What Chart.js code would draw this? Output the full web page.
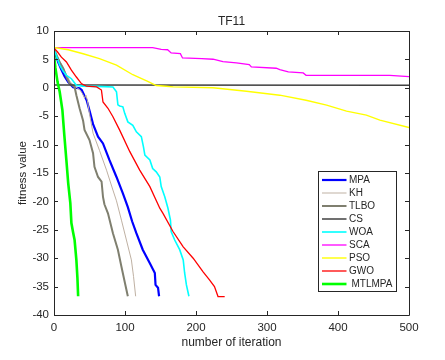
<!DOCTYPE html>
<html>
<head>
<meta charset="utf-8">
<script src="https://cdn.jsdelivr.net/npm/chart.js@4/dist/chart.umd.min.js"></script>
<style>
  html, body { margin: 0; padding: 0; background: #fff; }
  canvas { display: block; }
</style>
</head>
<body>
<canvas id="chart" width="445" height="360"></canvas>
<script>
// legend order
const names = ['MPA', 'KH', 'TLBO', 'CS', 'WOA', 'SCA', 'PSO', 'GWO', 'MTLMPA'];

// iteration / fitness pairs
const mpaIter = [0, 3, 6, 10, 15, 20, 27, 36, 39, 46, 50, 55, 62, 69, 78, 88, 97, 104, 110, 116, 125, 135, 142, 143, 146.5, 148];
const mpaFit = [6.6, 5.6, 4.5, 3.3, 2.0, 1.0, 0.1, -0.1, -0.4, -2.2, -4.0, -6.4, -8.6, -9.8, -12.7, -15.7, -18.6, -21.0, -23.5, -25.6, -28.5, -30.9, -32.6, -34.7, -35.2, -36.7];

const khIter = [0, 4, 8, 13, 18, 23, 30, 36, 40, 43, 45, 47, 50, 55, 64, 74, 83, 88, 95, 102, 109, 112, 115];
const khFit = [6.8, 5.8, 4.7, 3.6, 2.2, 1.0, 0.2, -0.3, -1.0, -1.8, -1.3, -2.2, -4.6, -8.0, -11.0, -14.5, -18.0, -19.9, -23.3, -26.8, -30.3, -33.2, -36.7];

const tlboIter = [0, 4, 8, 13, 18, 22, 29, 31.5, 36, 41, 43, 50, 55, 57, 62, 67, 69, 71, 76, 83, 90, 95, 100, 104];
const tlboFit = [6.8, 5.6, 4.5, 3.4, 1.8, 0.75, 0.15, -1.3, -3.6, -5.8, -7.4, -9.2, -11.5, -13.9, -15.7, -16.5, -19.2, -20.5, -22.1, -25.6, -28.5, -31.5, -34.4, -36.7];

const csIter = [0, 500];
const csFit = [0.5, 0.45];

const woaIter = [0, 4, 8, 13, 17.5, 24.5, 31.5, 40, 60, 83, 88, 90, 92.5, 97, 99.6, 104, 111, 116, 123, 126, 128, 135, 139, 144, 149, 151, 156, 160.5, 164, 165, 170, 177, 182, 184, 186.5, 190];
const woaFit = [6.8, 5.4, 4.0, 2.9, 2.2, 1.6, 0.45, 0.3, 0.25, 0.15, -0.7, -3.0, -3.2, -3.35, -4.5, -6.0, -6.6, -7.75, -8.6, -10.4, -11.85, -12.7, -14.2, -14.8, -15.7, -17.4, -19.2, -21.2, -23.3, -25.3, -26.8, -28.5, -30.3, -32.6, -34.7, -36.7];

const scaIter = [0, 139, 151, 160, 165, 178, 181, 208, 224, 238, 257, 275, 278, 313, 318, 330, 351, 355, 473, 500];
const scaFit = [7.08, 7.08, 6.78, 6.7, 6.14, 6.0, 5.26, 5.15, 5.03, 4.62, 4.38, 4.09, 3.68, 3.44, 3.2, 2.8, 2.62, 2.2, 2.2, 1.98];

const psoIter = [0, 20, 41, 64, 88, 111, 132, 144, 158, 168, 224, 271, 318, 355, 384, 412, 440, 459, 500];
const psoFit = [7.1, 6.7, 6.0, 5.15, 4.0, 2.3, 1.15, 0.4, 0.28, 0.16, 0.0, -0.6, -1.3, -2.2, -3.05, -4.1, -4.8, -5.7, -7.0];

const gwoIter = [0, 5, 10.4, 17.5, 24.5, 31.5, 38.6, 45.6, 60, 66.8, 69, 76, 83, 92.5, 106.6, 120.7, 135, 149, 153.5, 167.6, 182, 196, 210, 219, 226, 231, 240.4];
const gwoFit = [7.0, 6.3, 5.4, 4.55, 3.1, 1.9, 0.75, 0.28, 0.15, -0.4, -2.5, -3.6, -5.1, -7.45, -11.2, -14.5, -17.4, -21.2, -22.1, -25.3, -28.0, -30.0, -32.4, -33.8, -35.0, -36.75, -36.75];

const mtlmpaIter = [0, 2, 5, 8, 11.8, 14.5, 17.4, 20, 23, 24.5, 27, 29, 31.5, 33, 34];
const mtlmpaFit = [5.8, 3.5, 1.0, -0.7, -3.9, -8.3, -12.7, -16.8, -20.3, -23.8, -25.5, -26.8, -30.3, -33.5, -36.7];

const xTicks = [0, 100, 200, 300, 400, 500];
const yTicks = [-40, -35, -30, -25, -20, -15, -10, -5, 0, 5, 10];

const series = [
    [mpaIter, mpaFit, '#0000ff', 2.2],
    [khIter, khFit, '#bfb1a3', 1],
    [tlboIter, tlboFit, '#7f7f6f', 2],
    [csIter, csFit, '#404040', 1.5],
    [woaIter, woaFit, '#00ffff', 1.6],
    [scaIter, scaFit, '#ff00ff', 1.3],
    [psoIter, psoFit, '#ffff00', 1.4],
    [gwoIter, gwoFit, '#ff0000', 1.3],
    [mtlmpaIter, mtlmpaFit, '#00ff00', 2.6]
];

const axisColor = '#262626';
const fontFamily = '"Liberation Sans", Arial, sans-serif';

const datasets = series.map((s, i) => ({
    label: names[i],
    data: s[0].map((x, j) => ({ x: x, y: s[1][j] })),
    borderColor: s[2],
    backgroundColor: s[2],
    borderWidth: s[3],
    pointRadius: 0,
    tension: 0,
    fill: false,
    order: series.length - i
}));

// box, inward ticks, titles and legend in MATLAB style
const matlabFrame = {
    id: 'matlabFrame',
    beforeDraw(chart) {
        const ctx = chart.ctx;
        ctx.save();
        ctx.fillStyle = '#fff';
        ctx.fillRect(0, 0, chart.width, chart.height);
        ctx.restore();
    },
    afterDatasetsDraw(chart) {
        const ctx = chart.ctx;
        const a = chart.chartArea;
        const xs = chart.scales.x;
        const ys = chart.scales.y;
        const tl = 4;
        ctx.save();
        ctx.strokeStyle = axisColor;
        ctx.lineWidth = 1;
        ctx.beginPath();
        ctx.rect(Math.round(a.left) + 0.5, Math.round(a.top) + 0.5, Math.round(a.right - a.left), Math.round(a.bottom - a.top));
        xTicks.forEach(v => {
            const px = Math.round(xs.getPixelForValue(v)) + 0.5;
            ctx.moveTo(px, a.bottom); ctx.lineTo(px, a.bottom - tl);
            ctx.moveTo(px, a.top); ctx.lineTo(px, a.top + tl);
        });
        yTicks.forEach(v => {
            const py = Math.round(ys.getPixelForValue(v)) + 0.5;
            ctx.moveTo(a.left, py); ctx.lineTo(a.left + tl, py);
            ctx.moveTo(a.right, py); ctx.lineTo(a.right - tl, py);
        });
        ctx.stroke();

        // titles
        ctx.fillStyle = axisColor;
        ctx.textAlign = 'center';
        ctx.textBaseline = 'middle';
        ctx.font = '12px ' + fontFamily;
        ctx.fillText('TF11', (a.left + a.right) / 2, 22);
        ctx.fillText('number of iteration', (a.left + a.right) / 2, 343);
        ctx.save();
        ctx.translate(23, (a.top + a.bottom) / 2);
        ctx.rotate(-Math.PI / 2);
        ctx.font = '11.5px ' + fontFamily;
        ctx.fillText('fitness value', 0, 0);
        ctx.restore();

        // legend
        const lx = 318.5, ly = 171.5, lw = 78, lh = 120;
        ctx.fillStyle = '#fff';
        ctx.fillRect(lx, ly, lw, lh);
        ctx.strokeStyle = axisColor;
        ctx.strokeRect(lx, ly, lw, lh);
        ctx.textAlign = 'left';
        ctx.font = '10px ' + fontFamily;
        chart.data.datasets.forEach((ds, i) => {
            const y = 180 + i * 13;
            ctx.strokeStyle = ds.borderColor;
            ctx.lineWidth = ds.borderWidth;
            ctx.beginPath();
            ctx.moveTo(322, y);
            ctx.lineTo(346.5, y);
            ctx.stroke();
            ctx.fillStyle = axisColor;
            ctx.fillText(ds.label, i === series.length - 1 ? 351.5 : 349, y);
        });
        ctx.restore();
    }
};

new Chart(document.getElementById('chart'), {
    type: 'line',
    data: { datasets: datasets },
    options: {
        responsive: false,
        animation: false,
        devicePixelRatio: 1,
        layout: { padding: { left: 0, top: 31, right: 36, bottom: 0 } },
        plugins: {
            legend: { display: false },
            tooltip: { enabled: false }
        },
        scales: {
            x: {
                type: 'linear',
                min: 0,
                max: 500,
                grid: { display: false, drawTicks: false },
                border: { display: false },
                afterBuildTicks: s => { s.ticks = xTicks.map(v => ({ value: v })); },
                afterFit: s => { s.height = 45; },
                ticks: {
                    color: axisColor,
                    font: { family: fontFamily, size: 11.5 },
                    padding: 6,
                    maxRotation: 0,
                    autoSkip: false
                }
            },
            y: {
                type: 'linear',
                min: -40,
                max: 10,
                grid: { display: false, drawTicks: false },
                border: { display: false },
                afterBuildTicks: s => { s.ticks = yTicks.map(v => ({ value: v })); },
                afterFit: s => { s.width = 54; },
                ticks: {
                    color: axisColor,
                    font: { family: fontFamily, size: 11.5 },
                    padding: 5
                }
            }
        }
    },
    plugins: [matlabFrame]
});
</script>
</body>
</html>
